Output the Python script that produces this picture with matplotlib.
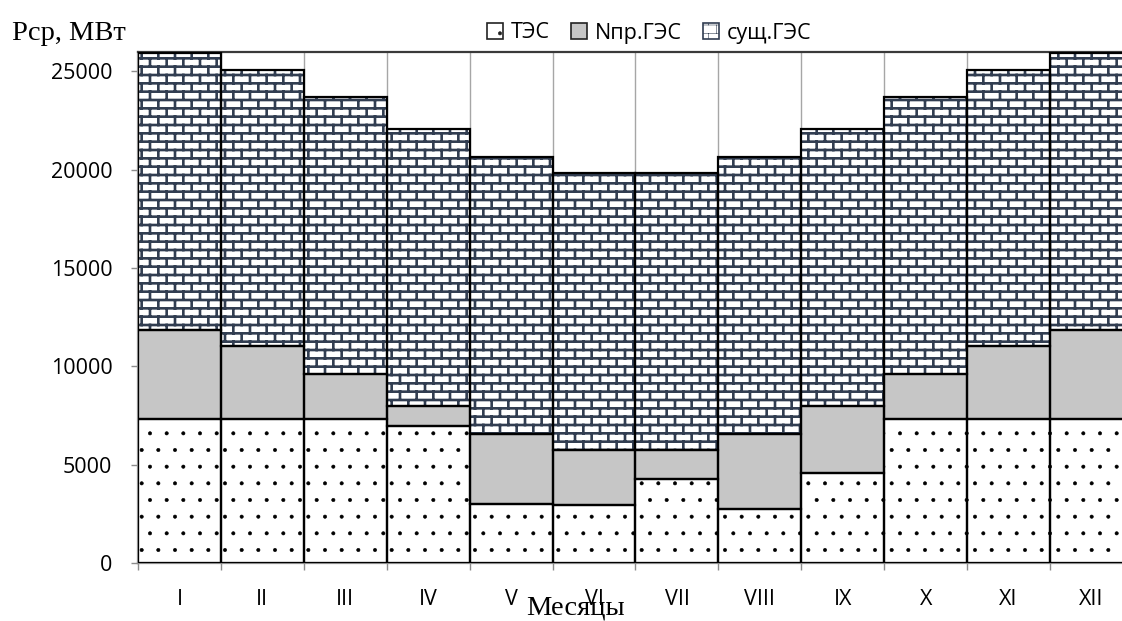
#!/usr/bin/env python3
"""
Баланс мощности энергосистемы по месяцам: ТЭС, Nпр.ГЭС, сущ.ГЭС.
Сохраняет out.png.
"""

import warnings

import matplotlib

matplotlib.use("Agg")
import matplotlib.pyplot as plt
import numpy as np
from matplotlib import hatch as mhatch
from matplotlib.patches import Patch

warnings.filterwarnings("ignore")

# Данные (МВт)
MONTHS = ["I", "II", "III", "IV", "V", "VI", "VII", "VIII", "IX", "X", "XI", "XII"]
TES = [7300, 7300, 7300, 6950, 3000, 2950, 4250, 2750, 4600, 7300, 7300, 7300]
NPR_GES = [4550, 3750, 2300, 1050, 3550, 2800, 1500, 3800, 3400, 2300, 3750, 4550]
SUSH_GES = [14100, 14000, 14100, 14050, 14100, 14100, 14100, 14100, 14050, 14100, 14000, 14100]
SERIES = ["ТЭС", "Nпр.ГЭС", "сущ.ГЭС"]
Y_TICKS = [0, 5000, 10000, 15000, 20000, 25000]

BRICK_COLOR = "#313D51"
GRAY = "#C6C6C6"
AXIS_GRAY = "#8C8C8C"


class BrickHatch(mhatch.HatchPatternBase):
    """Штриховка «кирпичная кладка» (символ 'b')."""

    def __init__(self, hatch, density):
        self.n = hatch.count("b") * density
        n = self.n
        self.num_vertices = 2 * (2 * n + 1) + 2 * n * (2 * n + 1) if n else 0

    def set_vertices_and_codes(self, vertices, codes):
        n = self.n
        rows = 2 * n
        segs = []
        for k in range(rows + 1):
            y = k / rows
            segs.append(((0.0, y), (1.0, y)))
        for r in range(rows):
            y0, y1 = r / rows, (r + 1) / rows
            if r % 2 == 0:
                xs = [j / n for j in range(n + 1)]
            else:
                xs = [(j + 0.5) / n for j in range(n)]
            for x in xs:
                segs.append(((x, y0), (x, y1)))
        pts = np.array(segs).reshape(-1, 2)
        vertices[:] = pts
        codes[0::2] = mhatch.Path.MOVETO
        codes[1::2] = mhatch.Path.LINETO


mhatch._hatch_types.append(BrickHatch)


def hatch_lw(patches, lw):
    for p in patches:
        if hasattr(p, "set_hatch_linewidth"):
            p.set_hatch_linewidth(lw)


plt.rcParams["font.family"] = ["Open Sans", "DejaVu Sans"]
plt.rcParams["hatch.linewidth"] = 0.4

fig = plt.figure(figsize=(11.22, 6.21), dpi=100)
ax = fig.add_axes([138 / 1122, 58 / 621, 995 / 1122, 511.3 / 621])

x = np.arange(1, len(MONTHS) + 1)
tes = np.array(TES)
npr = np.array(NPR_GES)
sush = np.array(SUSH_GES)

b1 = ax.bar(x, tes, width=1.0, color="white", edgecolor="black", linewidth=0,
            hatch=".", zorder=2)
hatch_lw(b1, 0.4)
ax.bar(x, npr, width=1.0, bottom=tes, color=GRAY, linewidth=0, zorder=2)
b3 = ax.bar(x, sush, width=1.0, bottom=tes + npr, color="white",
            edgecolor=BRICK_COLOR, linewidth=0, hatch="b", zorder=2)
hatch_lw(b3, 1.9)

# Контуры сегментов
for vals, bottom in [(tes, 0), (npr, tes), (sush, tes + npr)]:
    ax.bar(x, vals, width=1.0, bottom=bottom, fill=False, edgecolor="black",
           linewidth=1.6, zorder=3)

ax.set_xlim(0.5, len(MONTHS) + 0.5)
ax.set_ylim(0, 26000)

ax.set_yticks(Y_TICKS)
ax.set_yticklabels([str(v) for v in Y_TICKS], fontsize=15.5)
ax.tick_params(axis="y", length=5, width=1, color=AXIS_GRAY, pad=13.5)

ax.set_xticks(np.arange(0.5, len(MONTHS) + 1, 1.0))
ax.set_xticklabels([])
ax.tick_params(axis="x", which="major", length=5, width=1, color=AXIS_GRAY)
ax.set_xticks(x, minor=True)
ax.set_xticklabels(MONTHS, minor=True, fontsize=15.5)
ax.tick_params(axis="x", which="minor", length=0, pad=19)

ax.grid(axis="x", which="major", color="#A6A6A6", linewidth=1.0, zorder=0)
ax.set_axisbelow(True)

ax.spines["left"].set_color(AXIS_GRAY)
ax.spines["left"].set_linewidth(1.6)
ax.spines["bottom"].set_color(AXIS_GRAY)
ax.spines["bottom"].set_linewidth(1.6)
ax.spines["top"].set_color("#3A3A3A")
ax.spines["top"].set_linewidth(1.6)
ax.spines["right"].set_visible(False)

fig.text(12 / 1122, 1 - 40 / 621, "Pср, МВт", family="Liberation Serif",
         fontsize=20.5, ha="left", va="baseline")
fig.text(575 / 1122, 6 / 621, "Месяцы", family="Liberation Serif",
         fontsize=20.5, ha="center", va="baseline")

handles = [
    Patch(facecolor="white", edgecolor="#222222", hatch=".", linewidth=1.2),
    Patch(facecolor=GRAY, edgecolor="#222222", linewidth=1.2),
    Patch(facecolor="white", edgecolor=BRICK_COLOR, hatch="b", linewidth=1.2),
]
hatch_lw(handles[:1], 0.4)
hatch_lw(handles[2:], 1.2)
fig.legend(handles, SERIES, loc="center", bbox_to_anchor=(649 / 1122, 1 - 33 / 621),
           ncol=3, frameon=False, fontsize=15.5, handlelength=0.75,
           handleheight=0.75, handletextpad=0.35, columnspacing=1.0,
           borderpad=0, borderaxespad=0)

fig.savefig("out.png", dpi=100)
plt.close(fig)
